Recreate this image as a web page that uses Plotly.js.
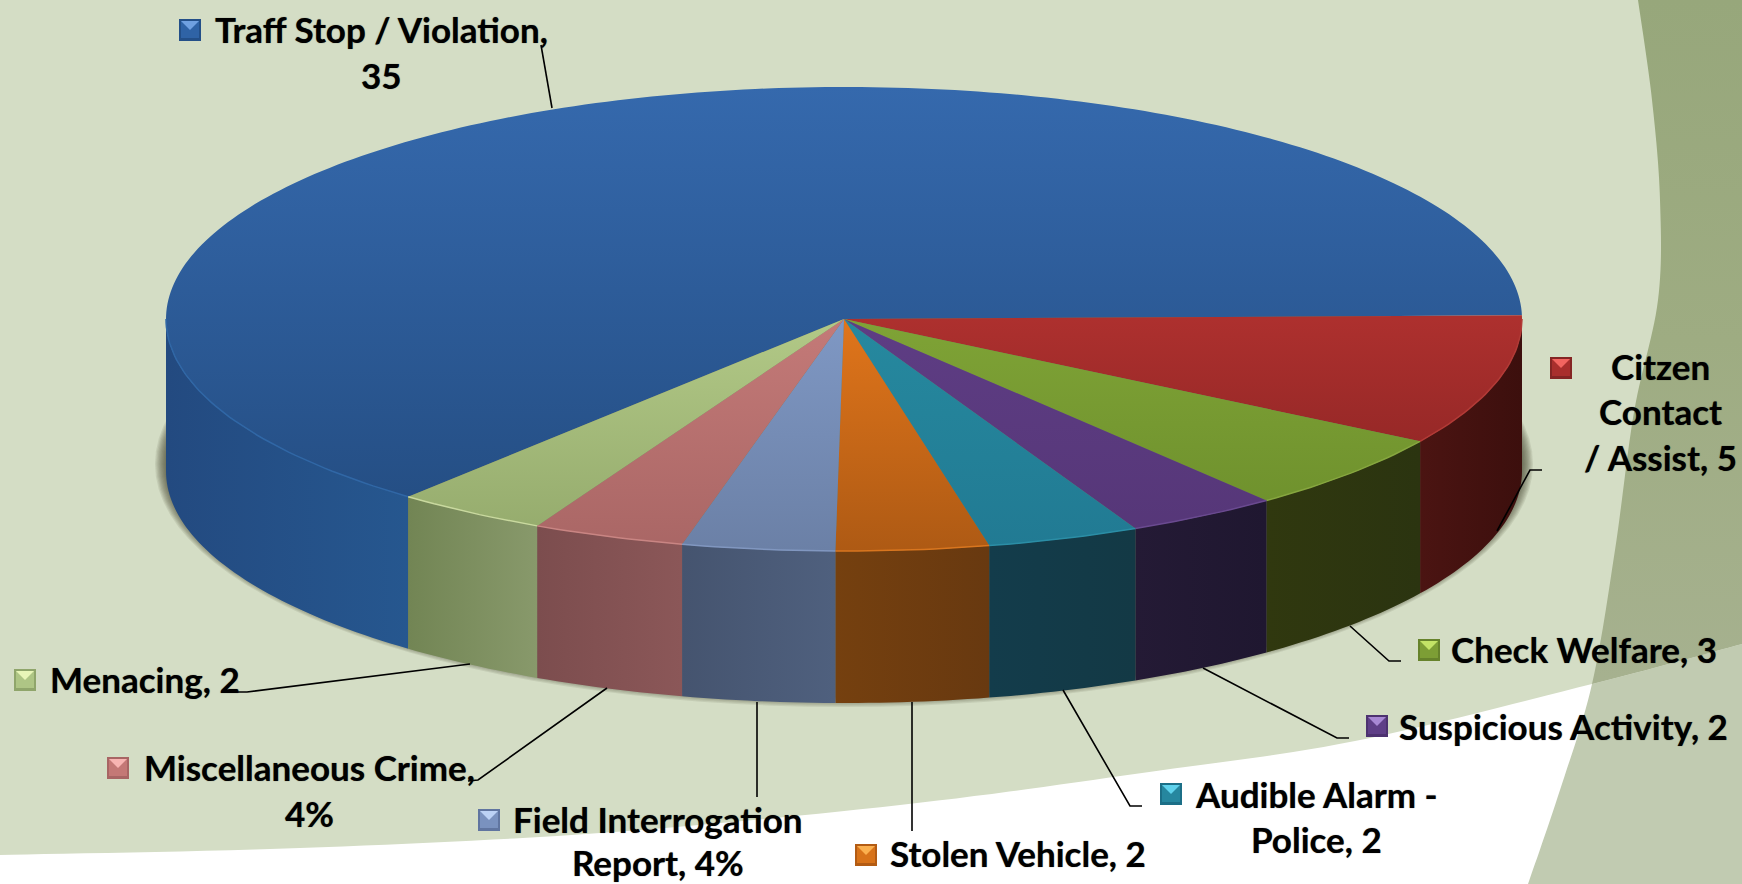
<!DOCTYPE html>
<html><head><meta charset="utf-8">
<script src="https://cdn.plot.ly/plotly-3.0.1.min.js"></script>
<style>html,body{margin:0;padding:0;background:#d4ddc5;overflow:hidden}#c{width:1742px;height:884px}</style>
</head><body><div id="c"></div>
<script>
// ---------- data ----------
const categories = ['Traff Stop / Violation','Citzen Contact / Assist','Check Welfare','Suspicious Activity','Audible Alarm - Police','Stolen Vehicle','Field Interrogation Report','Miscellaneous Crime','Menacing'];
const values     = [35,5,3,2,2,2,2,2,2];
// ---------- styles ----------
const topStart = ['#3569ad','#ad302e','#7fa336','#5e3d84','#26899f','#e0751b','#7f98c4','#c47a78','#b2c987'];
const topEnd   = ['#254f85','#832121','#6b8d2b','#553677','#217a93','#ae5a14','#6b80a6','#a96665','#93a96b'];
const wallA    = ['#26578f','#3c0f0d','#2b3410','#1f1730','#133945','#683910','#4f607e','#8b5758','#88996b'];
const wallB    = ['#234a80','#4b1412','#30380f','#241a35','#133c4b','#75400f','#45546f','#7c4d4e','#728554'];
const rimColor = ['#3067a6','#b23a36','#86a63f','#6a4a90','#2b8ea6','#d9761f','#8197c0','#c98583','#c9d99f'];
const keyDark  = ['#234f88','#842524','#66822b','#4d3270','#1c6f87','#b35c14','#6075a0','#a86564','#8fa56b'];
const keyMid   = ['#2f63a6','#a92f2d','#7d9e35','#5f3f87','#26879f','#d8731a','#7a92bf','#c47876','#aec585'];
const keyLight = ['#6fa0e0','#f26560','#c3e366','#a888d4','#5fd2ec','#fbb04f','#bcd2f5','#f8b4b2','#e8f5b8'];
// ---------- geometry of the drawing (pixels of the 1742x884 page) ----------
const cx=844, cy=319, rx=678, ry=232, wallH=152, startAngle=220;
const keySize=22;
const keyCorners=[[179,19],[1550,357],[1418,639],[1366,715],[1160,783],[855,844],[478,809],[107,757],[14,669]];
const labelLines=[
 ['Traff Stop / Violation,',381,29],['35',381,75],
 ['Citzen',1660,366],['Contact',1660,411],['/ Assist, 5',1660,457],
 ['Check Welfare, 3',1584,649],['Suspicious Activity, 2',1563,726],
 ['Audible Alarm -',1316,794],['Police, 2',1316,839],
 ['Stolen Vehicle, 2',1018,853],
 ['Field Interrogation',658,819],['Report, 4%',658,862],
 ['Miscellaneous Crime,',309,767],['4%',309,813],
 ['Menacing, 2',145,679]];
const leaders=[
 [[541,45],[552,108]],
 [[1542,470],[1530,470],[1497,531]],
 [[1401,661],[1389,661],[1350,626]],
 [[1349,738],[1337,738],[1203,668]],
 [[1142,806],[1130,806],[1063,690]],
 [[912,702],[912,831]],
 [[757,702],[757,797]],
 [[607,688],[478,780],[468,781]],
 [[470,664],[247,692],[238,692]]];
const swooshEdge=[[0,855],[300,848],[600,833],[900,805],[1142,773],[1355,741],[1592,684],[1742,644]];
const bandEdge=[[1638,0],[1652,100],[1660,200],[1658,300],[1634,412],[1615,550],[1592,684],[1560,790],[1528,884]];

// ---------- helpers ----------
function smooth(pts,n){ n=n||14; const out=[];
  for(let i=0;i<pts.length-1;i++){
    const p0=pts[Math.max(i-1,0)],p1=pts[i],p2=pts[i+1],p3=pts[Math.min(i+2,pts.length-1)];
    for(let k=0;k<n;k++){const t=k/n,t2=t*t,t3=t2*t;
      out.push([0,1].map(j=>0.5*(2*p1[j]+(p2[j]-p0[j])*t+(2*p0[j]-5*p1[j]+4*p2[j]-p3[j])*t2+(3*p1[j]-3*p2[j]+p3[j]-p0[j])*t3)));
    }}
  out.push(pts[pts.length-1]); return out;}
const toPath=pts=>'M'+pts.map(p=>p[0].toFixed(1)+','+p[1].toFixed(1)).join('L')+'Z';
const px=a=>cx+rx*Math.sin(a*Math.PI/180);
const py=(a,dz)=>cy-ry*Math.cos(a*Math.PI/180)+(dz||0);
function arc(a0,a1,dz){const o=[],n=Math.max(2,Math.ceil(Math.abs(a1-a0)));for(let i=0;i<=n;i++){const a=a0+(a1-a0)*i/n;o.push([px(a),py(a,dz)]);}return o;}
const total=values.reduce((s,v)=>s+v,0);
const angles=[];{let a=startAngle;values.forEach((v,i)=>{const b=a+v/total*360;angles.push([a,b]);a=b;if(i===0)a-=360;});}
const base={mode:'none',fill:'toself',hoverinfo:'skip',showlegend:false,type:'scatter'};
const traces=[];
// dark band in the page art
{const se=smooth(swooshEdge),be=smooth(bandEdge);
 const left=be.filter(p=>p[1]<=684), right=se.filter(p=>p[0]>=1592);
 const poly=left.concat(right,[[1742,0]]);
 traces.push(Object.assign({},base,{x:poly.map(p=>p[0]),y:poly.map(p=>p[1]),
   fillgradient:{type:'vertical',start:0,stop:680,colorscale:[[0,'#97a77b'],[0.5,'#9eac82'],[1,'#a6b18f']]}}));}
// soft shadow under the pie
for(let k=0;k<9;k++){const grow=1-k/9,e=[];
  for(let a=0;a<360;a+=3){const s=a*Math.PI/180;e.push([cx+(rx+11*grow)*Math.sin(s),cy+wallH-7-(ry+11*grow)*Math.cos(s)]);}
  traces.push(Object.assign({},base,{x:e.map(p=>p[0]),y:e.map(p=>p[1]),fillcolor:'rgba(55,60,35,0.1)'}));}
// outer wall of each slice, only where it faces the viewer
angles.forEach((r,i)=>{
  const a0=Math.max(i===0?0:90,r[0]),a1=Math.min(270,r[1]);
  const poly=arc(a0,a1,0).concat(arc(a1,a0,wallH));
  const xs=poly.map(p=>p[0]);
  traces.push(Object.assign({},base,{x:poly.map(p=>p[0]),y:poly.map(p=>p[1]),
    fillgradient:{type:'horizontal',start:Math.min(...xs),stop:Math.max(...xs),colorscale:[[0,wallB[i]],[1,wallA[i]]]}}));
});
// top face of each slice
angles.forEach((r,i)=>{
  const poly=[[cx,cy]].concat(arc(r[0],r[1],0));
  const s=i===0?cy-ry:cy, e=cy+ry*(i===0?0.75:1);
  traces.push(Object.assign({},base,{x:poly.map(p=>p[0]),y:poly.map(p=>p[1]),
    fillgradient:{type:'vertical',start:s,stop:e,colorscale:[[0,topStart[i]],[1,topEnd[i]]]}}));
});
// thin light rim on the front edge
angles.forEach((r,i)=>{
  const a0=Math.max(i===0?0:90,r[0]),a1=Math.min(270,r[1]);
  const p=arc(a0,a1,0);
  traces.push({type:'scatter',mode:'lines',x:p.map(q=>q[0]),y:p.map(q=>q[1]),line:{color:rimColor[i],width:1.5},hoverinfo:'skip',showlegend:false});
});
// ---------- shapes ----------
const shapes=[];
{const se=smooth(swooshEdge),be=smooth(bandEdge);
 shapes.push({type:'path',layer:'below',xref:'x',yref:'y',path:toPath(se.concat([[1742,884],[0,884]])),fillcolor:'#ffffff',line:{width:0}});
 const lower=be.filter(p=>p[1]>=684).concat([[1742,884]],se.filter(p=>p[0]>=1592).reverse());
 shapes.push({type:'path',layer:'below',xref:'x',yref:'y',path:toPath(lower),fillcolor:'#c1cbb1',line:{width:0}});}
leaders.forEach(l=>shapes.push({type:'path',layer:'above',xref:'x',yref:'y',
  path:'M'+l.map(p=>p.join(',')).join('L'),line:{color:'#000',width:1.6},fillcolor:'rgba(0,0,0,0)'}));
keyCorners.forEach((k,i)=>{
  const [x,y]=k,s=keySize,m=s/2;
  const rect=(a,b,c,d,col)=>shapes.push({type:'rect',layer:'above',xref:'x',yref:'y',x0:a,y0:b,x1:c,y1:d,fillcolor:col,line:{width:0}});
  rect(x,y,x+s,y+s,keyDark[i]);
  rect(x+2,y+2,x+s-2,y+s-3,keyMid[i]);
  shapes.push({type:'path',layer:'above',xref:'x',yref:'y',path:`M${x+2},${y+2}L${x+s-2},${y+2}L${x+m},${y+m}Z`,fillcolor:keyLight[i],line:{width:0}});
});
// ---------- text ----------
const annotations=labelLines.map(l=>({x:l[1],y:l[2],xref:'x',yref:'y',text:l[0],showarrow:false,xanchor:'center',yanchor:'middle',
  font:{family:'Lato, Carlito, sans-serif',size:35,color:'#000',weight:700,shadow:'0 0 1px rgba(0,0,0,0.6)'}}));
const layout={width:1742,height:884,margin:{l:0,r:0,t:0,b:0},paper_bgcolor:'#d4ddc5',plot_bgcolor:'rgba(0,0,0,0)',
  xaxis:{range:[0,1742],visible:false,fixedrange:true},yaxis:{range:[884,0],visible:false,fixedrange:true},
  showlegend:false,shapes,annotations};
Plotly.newPlot('c',traces,layout,{displayModeBar:false,staticPlot:true});
</script></body></html>
